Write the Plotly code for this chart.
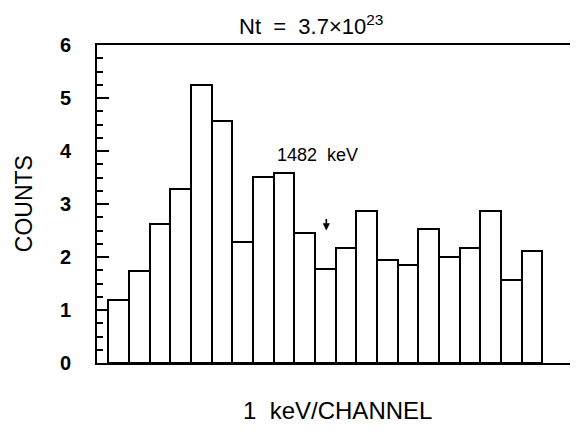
import plotly.graph_objects as go

channels = list(range(1, 22))
counts = [1.19, 1.74, 2.62, 3.29, 5.25, 4.56, 2.29, 3.51, 3.58, 2.46, 1.78,
          2.17, 2.86, 1.95, 1.85, 2.52, 2.00, 2.17, 2.86, 1.57, 2.11]
peak_channel = 11
peak_label = "1482  keV"

fig = go.Figure(go.Bar(
    x=channels, y=counts, width=1,
    marker=dict(color="white", line=dict(color="black", width=2)),
))

fig.update_layout(
    width=570, height=430,
    margin=dict(l=89, r=5, t=37, b=75, autoexpand=False),
    paper_bgcolor="white", plot_bgcolor="white",
    showlegend=False,
    font=dict(family="Liberation Sans, Arial, sans-serif", color="black"),
    bargap=0,
)
fig.update_xaxes(range=[-0.05, 22.99], showline=True, mirror=True, linecolor="black",
                 linewidth=2, showticklabels=False, ticks="", showgrid=False, zeroline=False,
                 automargin=False)
fig.update_yaxes(range=[0, 6], showline=True, mirror=True, linecolor="black", linewidth=2,
                 ticks="inside", ticklen=12, tickwidth=2, tickcolor="black", dtick=1,
                 tickfont=dict(size=20, weight="bold"), ticklabelstandoff=20,
                 minor=dict(ticks="inside", ticklen=6, tickwidth=2, dtick=0.25, tickcolor="black"),
                 showgrid=False, zeroline=False, automargin=False)

fig.add_annotation(text="Nt  =  3.7×10<sup>23</sup>", xref="paper", yref="paper",
                   x=0.45, y=1.012, showarrow=False, font=dict(size=22), xanchor="center", yanchor="bottom")
fig.add_annotation(text="1  keV/CHANNEL", xref="paper", yref="paper",
                   x=0.505, y=-0.148, showarrow=False, font=dict(size=24), xanchor="center", yanchor="middle")
fig.add_annotation(text="COUNTS", xref="paper", yref="paper", textangle=-90,
                   x=-0.153, y=0.5, showarrow=False, font=dict(size=23), xanchor="center", yanchor="middle")
fig.add_annotation(text=peak_label, x=peak_channel - 0.4, y=3.92, showarrow=False,
                   font=dict(size=18), xanchor="center", yanchor="middle")
fig.add_annotation(text="", x=peak_channel + 0.05, y=2.5, ax=0, ay=-13, showarrow=True,
                   arrowhead=2, arrowsize=0.9, arrowwidth=1.6, arrowcolor="black")

fig.write_html("out.html")
